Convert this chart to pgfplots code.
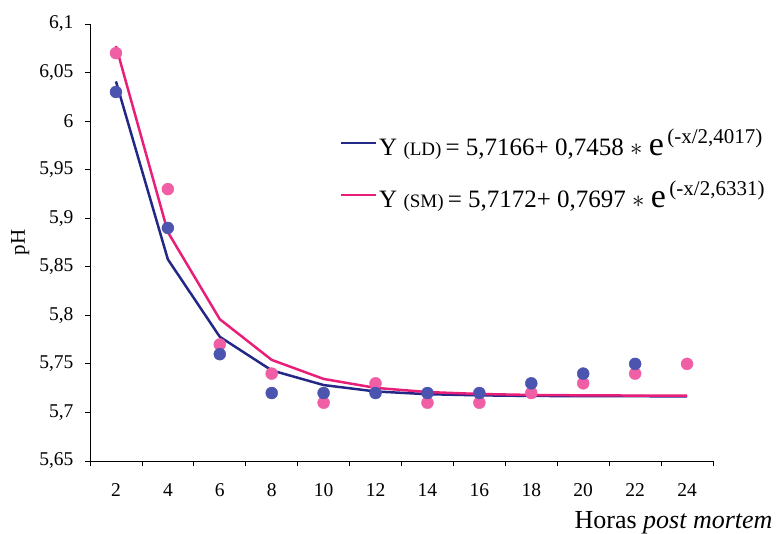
\documentclass[border=0pt]{standalone}
\usepackage{fontspec}
\setmainfont{Liberation Serif}
\usepackage{pgfplots}
\pgfplotsset{compat=1.18}
\definecolor{ldline}{RGB}{35,40,135}
\definecolor{ldmark}{RGB}{75,85,175}
\definecolor{smline}{RGB}{232,30,120}
\definecolor{smmark}{RGB}{240,95,165}
\begin{document}
\begin{tikzpicture}
\begin{axis}[
  name=ax,
  at={(0,0)}, anchor=south west,
  scale only axis,
  width=623bp, height=437bp,
  xmin=1, xmax=25,
  ymin=5.65, ymax=6.1,
  axis lines=left,
  axis line style={-, line width=0.9pt, black},
  tick align=outside,
  major tick length=5bp,
  tick style={black, line width=0.8pt},
  xtick={1,3,...,25},
  xticklabels={},
  extra x ticks={2,4,...,24},
  extra x tick labels={2,4,6,8,10,12,14,16,18,20,22,24},
  extra x tick style={major tick length=0pt, xticklabel style={yshift=-19bp}},
  ytick={5.65,5.7,...,6.11},
  /pgf/number format/use comma,
  /pgf/number format/fixed,
  /pgf/number format/precision=2,
  /pgf/number format/assume math mode=true,
  yticklabel style={font=\fontsize{19.5bp}{22bp}\selectfont, anchor=east, xshift=-8bp},
  xticklabel style={font=\fontsize{19.5bp}{22bp}\selectfont},
  xlabel={Horas \textit{post mortem}},
  xlabel style={font=\fontsize{26bp}{28bp}\selectfont, at={(axis description cs:1.1011,0)}, anchor=base east, yshift=-67bp},
  ylabel={pH},
  ylabel style={font=\fontsize{21bp}{24bp}\selectfont, at={(axis description cs:-0.112,0.5)}, anchor=center},
  legend style={draw=none, fill=none, at={(axis description cs:0.401,0.765)}, anchor=north west,
    font=\fontsize{25bp}{28bp}\selectfont, row sep=20bp, inner sep=0pt},
  legend cell align=left,
  legend image code/.code={\draw[#1, line width=2.2pt] (0bp,0bp) -- (35bp,0bp);},
]
\addplot[ldline, line width=2.5pt, no markers] coordinates {
(2,6.0409) (4,5.8576) (6,5.7779) (8,5.7433) (10,5.7282) (12,5.7216)
(14,5.7188) (16,5.7176) (18,5.7170) (20,5.7168) (22,5.7167) (24,5.7166)};
\addlegendentry{Y {\fontsize{19bp}{20bp}\selectfont(LD)}\,= 5,7166+ 0,7458 $\ast$ {\fontsize{34bp}{28bp}\selectfont e}\raisebox{12bp}{\fontsize{21bp}{22bp}\selectfont\,(-x/2,4017)}}
\addplot[smline, line width=2.5pt, no markers] coordinates {
(2,6.0773) (4,5.8857) (6,5.7960) (8,5.7541) (10,5.7345) (12,5.7253)
(14,5.7210) (16,5.7190) (18,5.7180) (20,5.7176) (22,5.7174) (24,5.7173)};
\addlegendentry{Y {\fontsize{19bp}{20bp}\selectfont(SM)}\,= 5,7172+ 0,7697 $\ast$ {\fontsize{34bp}{28bp}\selectfont e}\raisebox{12bp}{\fontsize{21bp}{22bp}\selectfont\,(-x/2,6331)}}
\addplot[only marks, mark=*, mark size=6bp, mark options={draw=smmark, fill=smmark}, forget plot] coordinates {
(2,6.07) (4,5.93) (6,5.77) (8,5.74) (10,5.71) (12,5.73)
(14,5.71) (16,5.71) (18,5.72) (20,5.73) (22,5.74) (24,5.75)};
\addplot[only marks, mark=*, mark size=6bp, mark options={draw=ldmark, fill=ldmark}, forget plot] coordinates {
(2,6.03) (4,5.89) (6,5.76) (8,5.72) (10,5.72) (12,5.72)
(14,5.72) (16,5.72) (18,5.73) (20,5.74) (22,5.75)};
\end{axis}
\pgfresetboundingbox
\useasboundingbox (-90bp,-73bp) rectangle (692bp,461bp);
\end{tikzpicture}
\end{document}
